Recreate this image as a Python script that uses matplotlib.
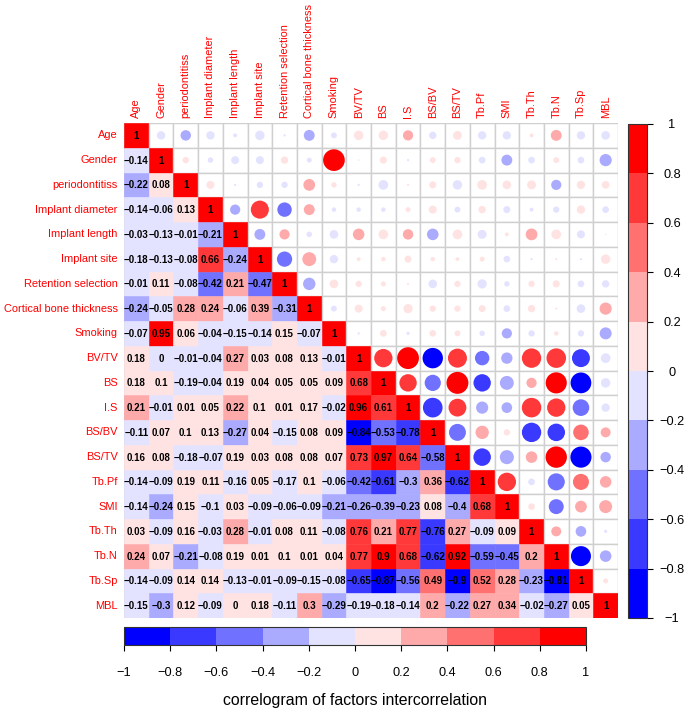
import numpy as np
import matplotlib
matplotlib.use("Agg")
import matplotlib.pyplot as plt
from matplotlib.colors import ListedColormap, BoundaryNorm
from matplotlib.cm import ScalarMappable
from matplotlib.patches import Rectangle, Circle

plt.rcParams['font.family'] = ['Liberation Sans', 'DejaVu Sans']

variables = ["Age", "Gender", "periodontitiss", "Implant diameter", "Implant length",
             "Implant site", "Retention selection", "Cortical bone thickness", "Smoking",
             "BV/TV", "BS", "I.S", "BS/BV", "BS/TV", "Tb.Pf", "SMI", "Tb.Th", "Tb.N",
             "Tb.Sp", "MBL"]

# lower-triangle correlations (row variable vs. earlier variables)
r_age = []
r_gender = [-0.14]
r_periodontitiss = [-0.22, 0.08]
r_implant_diameter = [-0.14, -0.06, 0.13]
r_implant_length = [-0.03, -0.13, -0.01, -0.21]
r_implant_site = [-0.18, -0.13, -0.08, 0.66, -0.24]
r_retention = [-0.01, 0.11, -0.08, -0.42, 0.21, -0.47]
r_cortical = [-0.24, -0.05, 0.28, 0.24, -0.06, 0.39, -0.31]
r_smoking = [-0.07, 0.95, 0.06, -0.04, -0.15, -0.14, 0.15, -0.07]
r_bvtv = [0.18, -0.004, -0.01, -0.04, 0.27, 0.03, 0.08, 0.13, -0.01]
r_bs = [0.18, 0.1, -0.19, -0.04, 0.19, 0.04, 0.05, 0.05, 0.09, 0.68]
r_is = [0.21, -0.01, 0.01, 0.05, 0.22, 0.1, 0.01, 0.17, -0.02, 0.96, 0.61]
r_bsbv = [-0.11, 0.07, 0.1, 0.13, -0.27, 0.04, -0.15, 0.08, 0.09, -0.84, -0.53, -0.78]
r_bstv = [0.16, 0.08, -0.18, -0.07, 0.19, 0.03, 0.08, 0.08, 0.07, 0.73, 0.97, 0.64, -0.58]
r_tbpf = [-0.14, -0.09, 0.19, 0.11, -0.16, 0.05, -0.17, 0.1, -0.06, -0.42, -0.61, -0.3, 0.36, -0.62]
r_smi = [-0.14, -0.24, 0.15, -0.1, 0.03, -0.09, -0.06, -0.09, -0.21, -0.26, -0.39, -0.23, 0.08, -0.4, 0.68]
r_tbth = [0.03, -0.09, 0.16, -0.03, 0.28, -0.01, 0.08, 0.11, -0.08, 0.76, 0.21, 0.77, -0.76, 0.27, -0.09, 0.09]
r_tbn = [0.24, 0.07, -0.21, -0.08, 0.19, 0.01, 0.1, 0.01, 0.04, 0.77, 0.9, 0.68, -0.62, 0.92, -0.59, -0.45, 0.2]
r_tbsp = [-0.14, -0.09, 0.14, 0.14, -0.13, -0.01, -0.09, -0.15, -0.08, -0.65, -0.87, -0.56, 0.49, -0.9, 0.52, 0.28, -0.23, -0.81]
r_mbl = [-0.15, -0.3, 0.12, -0.09, 0.004, 0.18, -0.11, 0.3, -0.29, -0.19, -0.18, -0.14, 0.2, -0.22, 0.27, 0.34, -0.02, -0.27, 0.05]

lower_rows = [r_age, r_gender, r_periodontitiss, r_implant_diameter, r_implant_length,
              r_implant_site, r_retention, r_cortical, r_smoking, r_bvtv, r_bs, r_is,
              r_bsbv, r_bstv, r_tbpf, r_smi, r_tbth, r_tbn, r_tbsp, r_mbl]

colorbar_ticks = [-1, -0.8, -0.6, -0.4, -0.2, 0, 0.2, 0.4, 0.6, 0.8, 1]
palette = ["#0000FF", "#3939FF", "#7171FF", "#AAAAFF", "#E3E3FF",
           "#FFE3E3", "#FFAAAA", "#FF7171", "#FF3939", "#FF0000"]

n = len(variables)
corr = np.eye(n)
for i, row in enumerate(lower_rows):
    for j, v in enumerate(row):
        corr[i, j] = v
        corr[j, i] = v

cmap = ListedColormap(palette)
norm = BoundaryNorm(colorbar_ticks, cmap.N)


def col_of(v):
    k = int(np.floor((v + 1) / 0.2 + 1e-9))
    return palette[min(max(k, 0), 9)]


def fmt(v):
    r = round(v, 2)
    if r == 0:
        return "0"
    s = f"{r:.2f}".rstrip('0').rstrip('.')
    return s.replace('-', '\u2212')


W, H = 685, 713
fig = plt.figure(figsize=(W / 100, H / 100), dpi=100)

x0, x1 = 124, 618
y0, y1 = 123, 618
ax = fig.add_axes([x0 / W, 1 - y1 / H, (x1 - x0) / W, (y1 - y0) / H])
ax.set_xlim(0, n)
ax.set_ylim(n, 0)
ax.axis('off')

grid_col = '#CFCFCF'
ax.add_patch(Rectangle((0, 0), n, n, facecolor='white', edgecolor=grid_col, lw=1.0, zorder=0))

for i in range(n):
    for j in range(n):
        v = corr[i, j]
        c = col_of(v)
        if j <= i:
            ax.add_patch(Rectangle((j, i), 1, 1, facecolor=c, edgecolor=c, lw=0.4, zorder=1))
            ax.text(j + 0.5, i + 0.52, fmt(v), ha='center', va='center', fontsize=7.0,
                    fontweight='bold', color='black', zorder=3)
        else:
            ax.add_patch(Rectangle((j, i), 1, 1, facecolor='white', edgecolor=grid_col, lw=1.0, zorder=1))
            ax.add_patch(Circle((j + 0.5, i + 0.5), 0.45 * np.sqrt(abs(v)), facecolor=c,
                                edgecolor='none', zorder=2))

for k, name in enumerate(variables):
    ax.text(-0.25, k + 0.5, name, ha='right', va='center', color='red', fontsize=7.9)
    ax.text(k + 0.5, -0.22, name, ha='center', va='bottom', rotation=90, color='red', fontsize=7.9)

sm = ScalarMappable(norm=norm, cmap=cmap)
tick_labels = [fmt(t) for t in colorbar_ticks]

# right colorbar
cax = fig.add_axes([628 / W, 1 - 618 / H, 19 / W, 494 / H])
cb = fig.colorbar(sm, cax=cax, orientation='vertical', ticks=colorbar_ticks)
cb.outline.set_edgecolor('#333333')
cb.outline.set_linewidth(0.8)
cax.set_yticks(colorbar_ticks)
cax.set_yticklabels(tick_labels, ha='center')
cax.tick_params(axis='y', direction='out', length=4, width=0.8, pad=14, labelsize=9.2)

# bottom colorbar
bax = fig.add_axes([124 / W, 1 - 645 / H, 462 / W, 18 / H])
cb2 = fig.colorbar(sm, cax=bax, orientation='horizontal', ticks=colorbar_ticks)
cb2.outline.set_edgecolor('#333333')
cb2.outline.set_linewidth(0.8)
bax.set_xticks(colorbar_ticks)
bax.set_xticklabels(tick_labels)
bax.tick_params(axis='x', direction='out', length=4, width=0.8, pad=12, labelsize=9.2)

fig.text(355 / W, 1 - 700 / H, "correlogram of factors intercorrelation",
         ha='center', va='center', fontsize=11.4)

fig.savefig("out.png", dpi=100)
